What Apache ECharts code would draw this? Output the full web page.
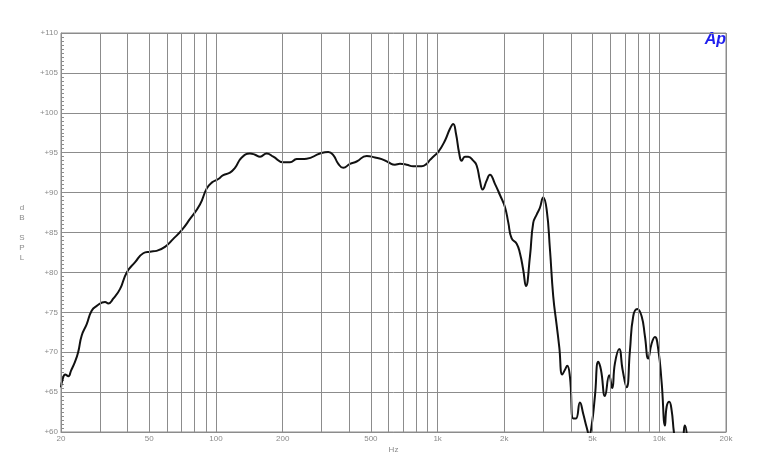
<!DOCTYPE html>
<html>
<head>
<meta charset="utf-8">
<script src="https://cdn.jsdelivr.net/npm/echarts@6/dist/echarts.min.js"></script>
<style>
  html, body { margin: 0; padding: 0; background: #fff; }
  #chart { width: 760px; height: 471px; }
</style>
</head>
<body>
<div id="chart"></div>
<script>
// frequency response
const freqHz = [20, 20.3, 20.9, 21.6, 22.2, 23.1, 23.9, 24.8, 26.1, 27.5, 29.0, 31.6, 32.7, 34.4, 36.9, 39.6, 43.1, 47.0, 50.4, 54.0,
  58.9, 64.2, 70.1, 76.4, 84.7, 90.8, 95.7, 102.5, 107.9, 115.7, 121.9, 130.7, 142.4, 150.1, 158.1, 169.4, 181.4, 201.2, 215.8, 231.4,
  256.6, 294.6, 321.2, 338.4, 356.5, 375.5, 402.4, 431.3, 478.6, 521.8, 559.4, 599.1, 642, 676, 725, 776, 847, 892, 924, 956,
  1007, 1079, 1137, 1176, 1210, 1252, 1284, 1328, 1375, 1448, 1500, 1552, 1596, 1664, 1722, 1814, 1911, 2012, 2082, 2158,
  2273, 2352, 2434, 2503, 2610, 2700, 2798, 2894, 2995, 3104, 3212, 3324, 3444, 3540, 3651, 3754, 3844, 3954, 4092, 4208,
  4386, 4538, 4702, 4831, 4953, 5126, 5306, 5456, 5690, 5946, 6134, 6308, 6596, 6832, 7124, 7373, 7630, 7954, 8326,
  8616, 8916, 9236, 9558, 9892, 10250, 10610, 10800, 11090, 11370, 11640, 12010, 12650, 13050, 13460, 14000];
const splDb = [65.6, 66.5, 67.2, 67.0, 67.7, 68.75, 70.0, 72.1, 73.5, 75.2, 75.8, 76.3, 76.1, 76.7, 77.9, 80.0, 81.25, 82.4, 82.6, 82.7,
  83.2, 84.2, 85.3, 86.7, 88.5, 90.5, 91.25, 91.7, 92.2, 92.5, 93.1, 94.4, 94.9, 94.75, 94.5, 94.9, 94.5, 93.8, 93.8, 94.2,
  94.25, 94.9, 95.1, 94.7, 93.6, 93.1, 93.6, 93.9, 94.6, 94.4, 94.2, 93.8, 93.5, 93.6, 93.5, 93.3, 93.3, 93.6, 94.1, 94.5,
  95.1, 96.5, 98.0, 98.6, 97.4, 94.9, 94.0, 94.5, 94.5, 94.0, 93.4, 91.5, 90.4, 91.5, 92.25, 91.1, 89.7, 88.2, 86.3, 84.25,
  83.6, 82.4, 80.3, 78.3, 82.0, 86.2, 87.25, 88.1, 89.4, 87.9, 82.9, 77.0, 73.4, 70.6, 67.2, 67.8, 68.3, 66.9, 61.7, 61.7,
  63.7, 62.3, 60.6, 59.7, 60.8, 64.5, 68.8, 67.8, 64.5, 67.1, 65.5, 68.6, 70.4, 67.8, 65.6, 70.2, 74.5, 75.4, 74.5,
  72.0, 69.2, 71.1, 71.9, 70.4, 66.2, 60.8, 63.2, 63.8, 62.7, 60.0, 57.5, 58.5, 60.8, 58.5, 54];

// vertical grid lines and x tick labels
const gridFreqs = [20, 30, 40, 50, 60, 70, 80, 90, 100, 200, 300, 400, 500, 600, 700, 800, 900,
  1000, 2000, 3000, 4000, 5000, 6000, 7000, 8000, 9000, 10000, 20000];
const xTickValues = [20, 50, 100, 200, 500, 1000, 2000, 5000, 10000, 20000];
const xTickLabels = ['20', '50', '100', '200', '500', '1k', '2k', '5k', '10k', '20k'];

const gridColor = '#8c8c8c';
const labelColor = '#8a8a8a';
const font = 'Liberation Sans';

const chart = echarts.init(document.getElementById('chart'), null, { renderer: 'canvas' });

const gridLines = gridFreqs.map(f => {
  const i = xTickValues.indexOf(f);
  return { xAxis: f, name: i >= 0 ? xTickLabels[i] : '' };
});

chart.setOption({
  animation: false,
  backgroundColor: '#fff',
  grid: {
    left: 61, right: 34, top: 33, bottom: 39,
    show: true, borderColor: gridColor, borderWidth: 1,
  },
  xAxis: {
    type: 'log',
    logBase: 10,
    min: 20,
    max: 20000,
    name: 'Hz',
    nameLocation: 'middle',
    nameGap: 14,
    nameTextStyle: { color: labelColor, fontSize: 8, fontFamily: font },
    axisLine: { lineStyle: { color: gridColor } },
    axisTick: { show: false },
    axisLabel: { show: false },
    splitLine: { show: false },
  },
  yAxis: {
    type: 'value',
    min: 60,
    max: 110,
    interval: 5,
    name: 'd\nB\n\nS\nP\nL',
    nameLocation: 'middle',
    nameRotate: 0,
    nameGap: 39,
    nameTextStyle: { color: labelColor, fontSize: 8, fontFamily: font, lineHeight: 10, align: 'center' },
    axisLine: { show: true, lineStyle: { color: gridColor } },
    axisTick: { show: true, inside: true, length: 4, lineStyle: { color: gridColor } },
    minorTick: { show: true, splitNumber: 10, length: 3, lineStyle: { color: gridColor } },
    axisLabel: {
      color: labelColor, fontSize: 8, fontFamily: font, margin: 3,
      formatter: v => '+' + v,
    },
    splitLine: { lineStyle: { color: gridColor, width: 1 } },
  },
  graphic: [{
    type: 'text',
    right: 34,
    top: 32,
    style: { text: 'Ap', font: 'italic bold 16px "Liberation Sans"', fill: '#1f1fee' },
  }],
  series: [
    {
      type: 'line',
      data: [],
      silent: true,
      z: 1,
      markLine: {
        silent: true,
        symbol: 'none',
        animation: false,
        lineStyle: { color: gridColor, width: 1, type: 'solid' },
        label: {
          show: true,
          position: 'start', distance: 3,
          formatter: '{b}',
          color: labelColor, fontSize: 8, fontFamily: font,
        },
        data: gridLines,
      },
    },
    {
      type: 'line',
      z: 3,
      data: freqHz.map((f, i) => [f, splDb[i]]),
      showSymbol: false,
      smooth: 0.5,
      clip: true,
      lineStyle: { color: '#111', width: 2 },
    },
  ],
});
</script>
</body>
</html>
